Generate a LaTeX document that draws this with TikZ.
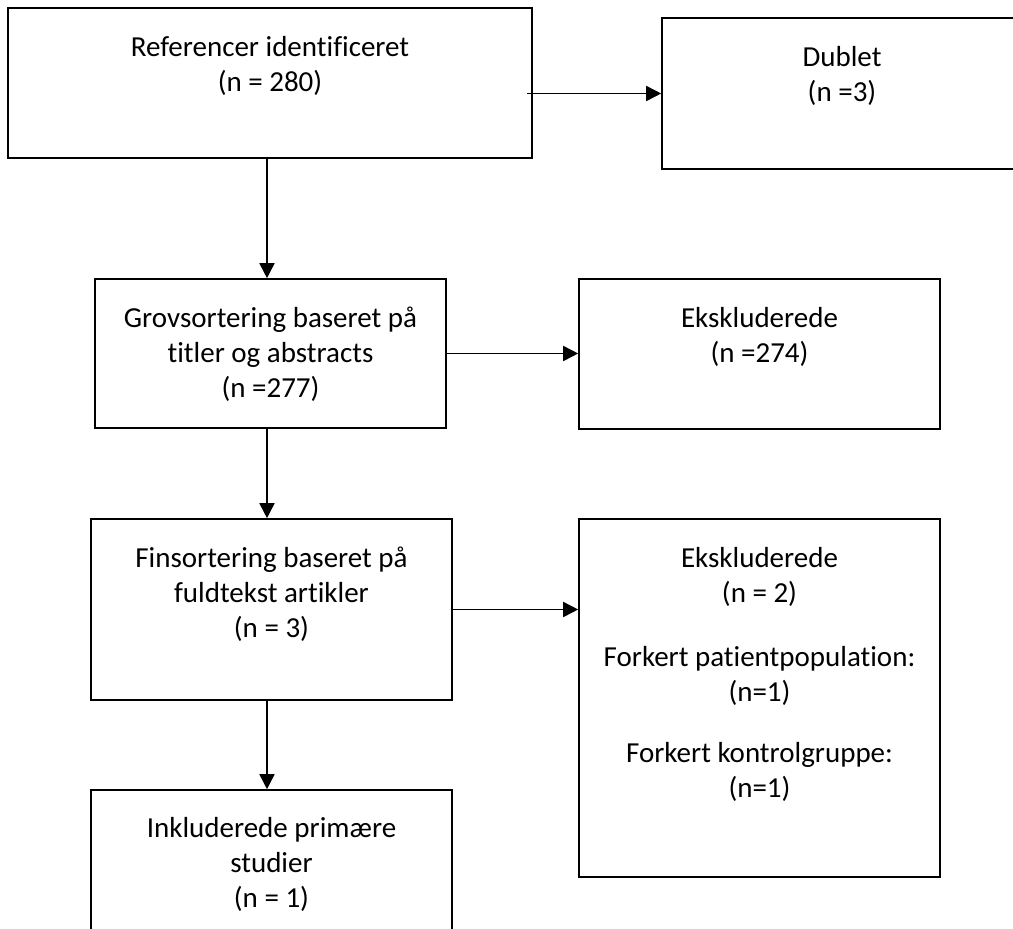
\documentclass[tikz,border=0pt]{standalone}
\usepackage{fontspec}
\setmainfont{Carlito}[Ligatures=NoCommon]
\usetikzlibrary{arrows.meta,positioning}

\tikzset{
	box/.style 2 args={draw, line width=1.6pt, minimum width=#1, minimum height=#2, inner sep=0pt},
	txt/.style={align=center, inner sep=0pt, font=\fontsize{29}{35}\selectfont},
	arr/.style={line width=1.6pt, -{Triangle[length=15pt,width=15pt]}}
}

\begin{document}
\begin{tikzpicture}[x=1pt, y=-1pt]

	% page
	\useasboundingbox (0,0) rectangle (1013,929);

	% boxes
	\node[box={524}{150}] (ref)  at (270,83)      {};
	\node[box={360}{151}] (dub)  at (842,93.5)    {};
	\node[box={351}{149}] (grov) at (270.5,353.5) {};
	\node[box={361}{150}] (eks1) at (759.5,354)   {};
	\node[box={361}{181}] (fin)  at (271.5,609.5) {};
	\node[box={361}{358}] (eks2) at (759.5,698)   {};
	\node[box={361}{180}] (inkl) at (271.5,880)   {};

	% texts
	\node[txt, below=25pt of ref.north]  (ref-t)  {\strut Referencer identificeret\\(n = 280)};
	\node[txt, below=25pt of dub.north]  (dub-t)  {\strut Dublet\\(n =3)};
	\node[txt, below=25pt of grov.north] (grov-t) {\strut Grovsortering baseret på\\titler og abstracts\\(n =277)};
	\node[txt, below=25pt of eks1.north] (eks1-t) {\strut Ekskluderede\\(n =274)};
	\node[txt, below=25pt of fin.north]  (fin-t)  {\strut Finsortering baseret på\\fuldtekst artikler\\(n = 3)};
	\node[txt, below=25pt of eks2.north] (eks2-t) {\strut Ekskluderede\\(n = 2)\\[29pt]
		Forkert patientpopulation:\\(n=1)\\[26pt]
		Forkert kontrolgruppe:\\(n=1)};
	\node[txt, below=24pt of inkl.north] (inkl-t) {\strut Inkluderede primære\\studier\\(n = 1)};

	% arrows down
	\draw[arr] ([xshift=-3pt]ref.south) -- ([xshift=-3pt]ref.south |- grov.north);
	\draw[arr] ([xshift=-3.5pt]grov.south) -- ([xshift=-3.5pt]grov.south |- fin.north);
	\draw[arr] ([xshift=-4.5pt]fin.south) -- ([xshift=-4.5pt]fin.south |- inkl.north);

	% arrows right
	\draw[arr] ([xshift=-6pt]ref.east |- dub.west) -- (dub.west);
	\draw[arr] (grov.east) -- (grov.east -| eks1.west);
	\draw[arr] (fin.east) -- (fin.east -| eks2.west);

\end{tikzpicture}
\end{document}
